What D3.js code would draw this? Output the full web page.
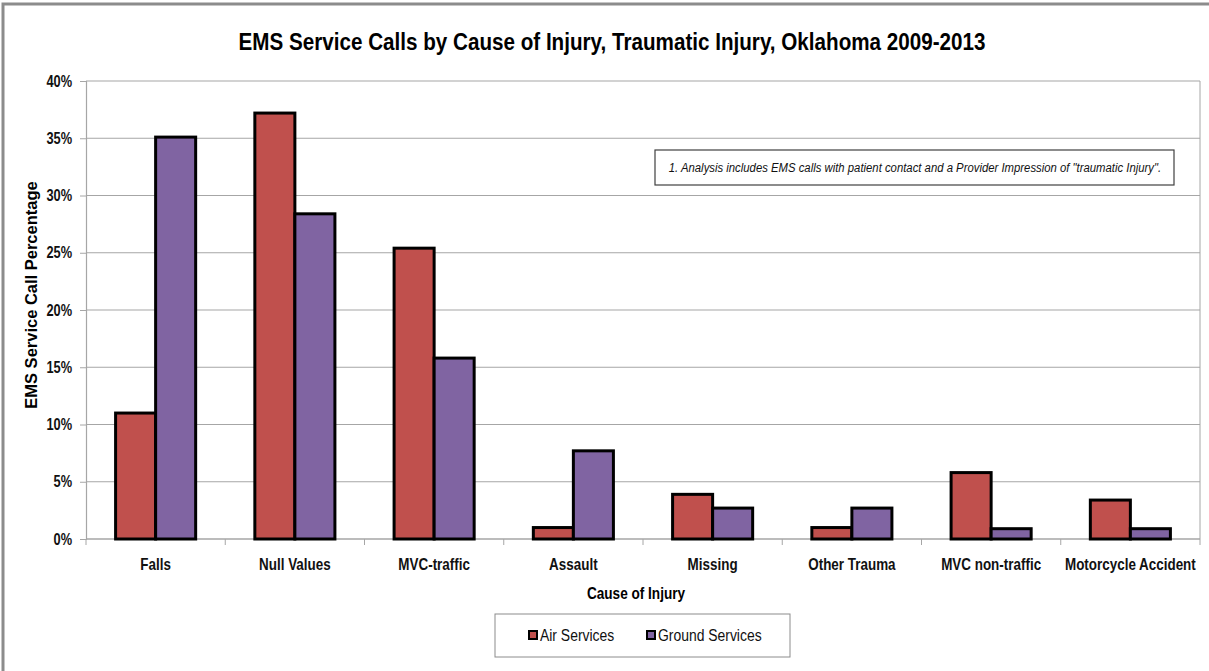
<!DOCTYPE html>
<html>
<head>
<meta charset="utf-8">
<script src="https://d3js.org/d3.v7.min.js"></script>
<style>
  body { margin: 0; background: #fff; }
  svg text { font-family: "Liberation Sans", Arial, sans-serif; }
</style>
</head>
<body>
<div id="chart"></div>
<script>
// data (percent)
var causes = ["Falls", "Null Values", "MVC-traffic", "Assault", "Missing", "Other Trauma", "MVC non-traffic", "Motorcycle Accident"];
var airServices = [11.0, 37.2, 25.4, 1.0, 3.9, 1.0, 5.8, 3.4];
var groundServices = [35.1, 28.4, 15.8, 7.7, 2.7, 2.7, 0.9, 0.9];
var seriesNames = ["Air Services", "Ground Services"];
var seriesColors = ["#c0504d", "#8064a2"];
var yTicks = [0, 5, 10, 15, 20, 25, 30, 35, 40];

var W = 1209, H = 671;
var edge = { top: 81, right: 9, bottom: 132, left: 86 },
    width = W - edge.left - edge.right,
    height = H - edge.top - edge.bottom;

// squeeze text horizontally to mimic the narrow font of the original
function condense(sel, k) {
    sel.each(function() {
        var t = d3.select(this);
        var tx = +t.attr("x") || 0, ty = +t.attr("y") || 0;
        t.attr("x", 0).attr("y", 0)
            .attr("transform", "translate(" + tx + "," + ty + ") scale(" + k + ",1)");
    });
}

var svg = d3.select("#chart").append("svg")
    .attr("width", W)
    .attr("height", H);

// outer frame
svg.append("rect")
    .attr("x", 3).attr("y", 4)
    .attr("width", W).attr("height", H)
    .attr("fill", "none")
    .attr("stroke", "#8c8c8c")
    .attr("stroke-width", 3);

svg.append("text")
    .attr("x", 612).attr("y", 50)
    .attr("text-anchor", "middle")
    .attr("font-size", 24).attr("font-weight", "bold")
    .text("EMS Service Calls by Cause of Injury, Traumatic Injury, Oklahoma 2009-2013")
    .call(condense, 0.86);

var g = svg.append("g")
    .attr("transform", "translate(" + edge.left + "," + edge.top + ")");

var x = d3.scaleBand()
    .domain(causes)
    .range([0, width])
    .paddingInner(0.425)
    .paddingOuter(0.2125);

var x1 = d3.scaleBand()
    .domain(seriesNames)
    .range([0, x.bandwidth()]);

var y = d3.scaleLinear()
    .domain([0, 40])
    .range([height, 0]);

// gridlines
g.selectAll(".grid")
    .data(yTicks)
    .enter().append("line")
    .attr("x1", 0).attr("x2", width)
    .attr("y1", function(d) { return y(d); })
    .attr("y2", function(d) { return y(d); })
    .attr("stroke", "#a6a6a6")
    .attr("stroke-width", 1.2);

// right edge of plot area
g.append("line")
    .attr("x1", width).attr("x2", width)
    .attr("y1", 0).attr("y2", height)
    .attr("stroke", "#a6a6a6");

// y axis
var yAxis = g.append("g")
    .call(d3.axisLeft(y).tickValues(yTicks).tickSize(6).tickFormat(function(d) { return d + "%"; }));
yAxis.select(".domain").attr("stroke", "#a6a6a6").attr("stroke-width", 1.2);
yAxis.selectAll(".tick line").attr("stroke", "#a6a6a6");
yAxis.selectAll(".tick text")
    .attr("x", -14)
    .attr("font-size", 16).attr("font-weight", "bold")
    .attr("fill", "#111")
    .style("font-family", null)
    .call(condense, 0.8);

// x axis with ticks between categories
var step = x.step();
var xAxis = g.append("g")
    .attr("transform", "translate(0," + height + ")");
xAxis.append("line")
    .attr("x1", 0).attr("x2", width)
    .attr("stroke", "#a6a6a6").attr("stroke-width", 1.2);
xAxis.selectAll(".xt")
    .data(d3.range(causes.length + 1))
    .enter().append("line")
    .attr("x1", function(i) { return i * step; })
    .attr("x2", function(i) { return i * step; })
    .attr("y1", 0).attr("y2", 6)
    .attr("stroke", "#a6a6a6");
xAxis.selectAll(".xl")
    .data(causes)
    .enter().append("text")
    .attr("x", function(d) { return x(d) + x.bandwidth() / 2; })
    .attr("y", 31)
    .attr("text-anchor", "middle")
    .attr("font-size", 16).attr("font-weight", "bold")
    .attr("fill", "#111")
    .text(function(d) { return d; })
    .call(condense, 0.84);

// bars
var rows = causes.map(function(c, i) {
    return { cause: c, values: [airServices[i], groundServices[i]] };
});

var groups = g.selectAll(".grp")
    .data(rows)
    .enter().append("g")
    .attr("transform", function(d) { return "translate(" + x(d.cause) + ",0)"; });

groups.selectAll("rect")
    .data(function(d) { return d.values.map(function(v, j) { return { name: seriesNames[j], value: v, j: j }; }); })
    .enter().append("rect")
    .attr("x", function(d) { return x1(d.name); })
    .attr("y", function(d) { return y(d.value); })
    .attr("width", x1.bandwidth())
    .attr("height", function(d) { return height - y(d.value); })
    .attr("fill", function(d) { return seriesColors[d.j]; })
    .attr("stroke", "#000")
    .attr("stroke-width", 3);

// axis titles
svg.append("text")
    .attr("transform", "translate(37,295) rotate(-90)")
    .attr("text-anchor", "middle")
    .attr("font-size", 16.5).attr("font-weight", "bold")
    .text("EMS Service Call Percentage");

svg.append("text")
    .attr("x", 636).attr("y", 599)
    .attr("text-anchor", "middle")
    .attr("font-size", 16).attr("font-weight", "bold")
    .text("Cause of Injury")
    .call(condense, 0.85);

// note box
svg.append("rect")
    .attr("x", 655).attr("y", 150)
    .attr("width", 519).attr("height", 35)
    .attr("fill", "#fff")
    .attr("stroke", "#404040").attr("stroke-width", 1.2);
svg.append("text")
    .attr("x", 915).attr("y", 172)
    .attr("text-anchor", "middle")
    .attr("font-size", 13.5).attr("font-style", "italic")
    .attr("fill", "#111")
    .text("1.  Analysis includes EMS calls with patient contact and a Provider Impression of  \"traumatic Injury\".")
    .call(condense, 0.84);

// legend
var legend = svg.append("g").attr("transform", "translate(495,614)");
legend.append("rect")
    .attr("width", 295).attr("height", 43)
    .attr("fill", "#fff")
    .attr("stroke", "#8c8c8c").attr("stroke-width", 1);
var legX = [34, 152];
var items = legend.selectAll(".li")
    .data(seriesNames)
    .enter().append("g")
    .attr("transform", function(d, i) { return "translate(" + legX[i] + ",17)"; });
items.append("rect")
    .attr("width", 8).attr("height", 8)
    .attr("fill", function(d, i) { return seriesColors[i]; })
    .attr("stroke", "#000").attr("stroke-width", 2);
items.append("text")
    .attr("x", 11).attr("y", 10)
    .attr("font-size", 16)
    .attr("fill", "#111")
    .text(function(d) { return d; })
    .call(condense, 0.87);
</script>
</body>
</html>
